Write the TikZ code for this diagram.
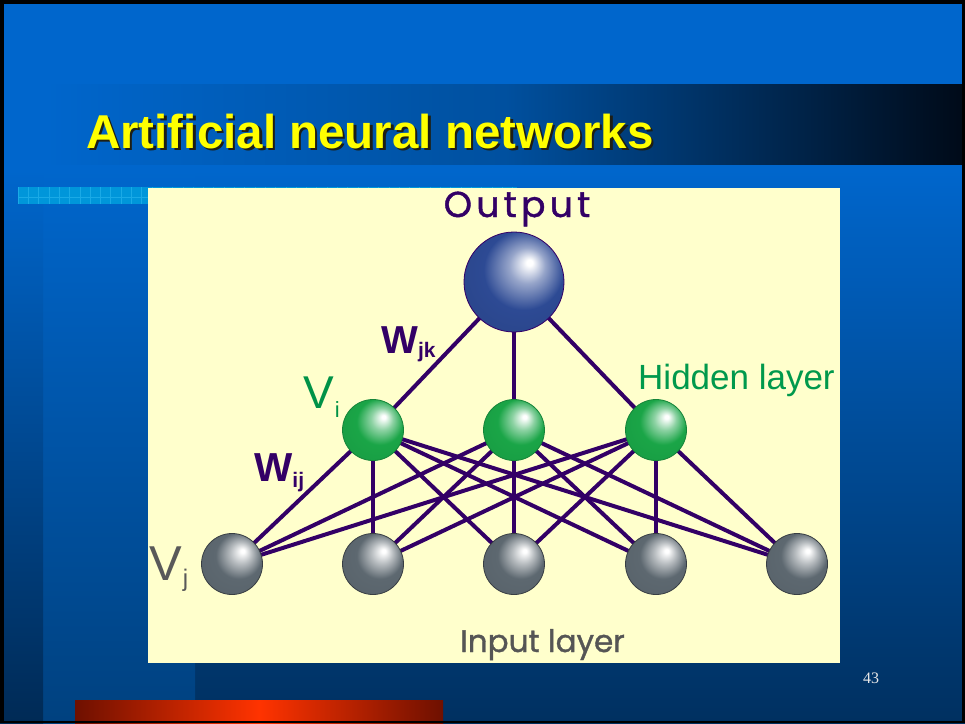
\documentclass[tikz,border=0pt]{standalone}
\usepackage{fontspec}
\setmainfont{Liberation Sans}
\newfontfamily\gothic[FakeBold=1.2]{Poppins}
\newfontfamily\gothicsp[LetterSpace=12,FakeBold=1.2]{Poppins}
\newfontfamily\timesf{Liberation Serif}
\definecolor{bgtop}{HTML}{0066CC}
\definecolor{bgbot}{HTML}{003060}
\definecolor{bgcol}{HTML}{00417F}
\definecolor{bgleft}{HTML}{002A55}
\definecolor{panel}{HTML}{FFFFCC}
\definecolor{wire}{HTML}{330066}
\definecolor{hidgreen}{HTML}{00994C}
\definecolor{vgreen}{HTML}{009247}
\definecolor{vgray}{HTML}{595959}
\definecolor{ingray}{HTML}{555555}
\definecolor{ballblue}{HTML}{2D4A94}
\definecolor{ballgreen}{HTML}{1AA547}
\definecolor{ballgray}{HTML}{5D6870}
\definecolor{stripe}{HTML}{0096DA}
\definecolor{stripeline}{HTML}{1AAAE6}
\definecolor{reddark}{HTML}{6E1000}
\definecolor{redlight}{HTML}{FF3300}
\definecolor{titleyellow}{HTML}{FFFF00}
\definecolor{shadow}{HTML}{1E1E14}
\definecolor{bandmid}{HTML}{00509F}
\definecolor{bandend}{HTML}{000A18}
\definecolor{pagenum}{HTML}{E8E8E8}
\pgfdeclareradialshading{sphblue}{\pgfpoint{8bp}{10bp}}{color(0bp)=(white); color(1.5bp)=(white); color(9bp)=(ballblue!50!white); color(20bp)=(ballblue); color(50bp)=(ballblue!85!black)}
\pgfdeclareradialshading{sphgreen}{\pgfpoint{9bp}{11bp}}{color(0bp)=(white); color(1.5bp)=(white); color(9bp)=(ballgreen!50!white); color(19bp)=(ballgreen); color(50bp)=(ballgreen!90!black)}
\pgfdeclareradialshading{sphgray}{\pgfpoint{9bp}{11bp}}{color(0bp)=(white); color(1.5bp)=(white); color(9bp)=(ballgray!45!white); color(19bp)=(ballgray); color(50bp)=(ballgray!90!black)}
\pgfdeclarelayer{bg}
\pgfdeclarelayer{wires}
\pgfsetlayers{bg,wires,main}
\tikzset{
  ballout/.style={circle, inner sep=0pt, minimum size=100, shading=sphblue, draw=wire, line width=0.8},
  ballhid/.style={circle, inner sep=0pt, minimum size=61, shading=sphgreen, draw=ballgreen!80!black, line width=0.8},
  ballin/.style={circle, inner sep=0pt, minimum size=61, shading=sphgray, draw=ballgray!60!black, line width=0.8},
  link/.style={wire, line width=4},
  lbl/.style={anchor=base west, inner sep=0pt},
}
\begin{document}
\begin{tikzpicture}[x=1pt, y=-1pt]
\useasboundingbox (0,0) rectangle (965,723);
\begin{pgfonlayer}{bg}
  \fill[bgtop] (0,0) rectangle (965,723);
  \shade[top color=bgtop, bottom color=bgbot] (0,170) rectangle (965,723);
  \shade[top color=bgtop, bottom color=bgcol] (43,170) rectangle (195,723);
  \shade[top color=bgtop, bottom color=bgleft] (0,170) rectangle (43,723);
  \shade[left color=bgtop, right color=bandend, middle color=bandmid] (45,84) rectangle (965,164);
  \fill[stripe] (18,187) rectangle (517,204);
  \foreach \i in {0,...,48} {\draw[stripeline, line width=0.6] (18+10.3*\i,187) -- (18+10.3*\i,204);}
  \draw[stripeline, line width=0.6] (18,197) -- (517,197);
  \fill[panel] (148,188) rectangle (840,663);
  \shade[left color=reddark, right color=reddark, middle color=redlight] (75,700) rectangle (443,723);
  \fill[black] (0,0) rectangle (4,723);
  \fill[black] (0,0) rectangle (965,4);
  \fill[black] (962,0) rectangle (965,723);
  \fill[black] (0,721) rectangle (965,723);
\end{pgfonlayer}

% title
\node[lbl, text=shadow, font=\bfseries\fontsize{47.5}{48}\selectfont] (titlesh) at (88.5,150.5) {Artificial neural networks};
\node[lbl, text=titleyellow, font=\bfseries\fontsize{47.5}{48}\selectfont] (title) at (86,148) {Artificial neural networks};

% nodes
\node[ballout] (o) at (514,282) {};
\node[ballhid] (h1) at (373,430) {};
\node[ballhid] (h2) at (514,430) {};
\node[ballhid] (h3) at (656,430) {};
\node[ballin] (i1) at (232,564) {};
\node[ballin] (i2) at (373,564) {};
\node[ballin] (i3) at (514,564) {};
\node[ballin] (i4) at (656,564) {};
\node[ballin] (i5) at (797,564) {};

\begin{pgfonlayer}{wires}
  \foreach \h in {h1,h2,h3} {\draw[link] (o.center) -- (\h.center);}
  \foreach \h in {h1,h2,h3} {\foreach \k in {i1,i2,i3,i4,i5} {\draw[link] (\h.center) -- (\k.center);}}
\end{pgfonlayer}

% labels
\node[anchor=base, inner sep=0pt, text=wire, font=\gothicsp\fontsize{36}{36}\selectfont] (outlbl) at (517,217) {Output};
\node[lbl, text=ingray, font=\gothic\fontsize{31}{31}\selectfont] (inlbl) at (460,652) {Input layer};
\node[lbl, text=hidgreen, font=\fontsize{35}{35}\selectfont] (hidlbl) at (638,389) {Hidden layer};
\node[lbl, text=vgreen, font=\fontsize{46}{46}\selectfont] (vi) at (303,408) {V\kern1pt\raisebox{-9pt}{\fontsize{22}{22}\selectfont i}};
\node[lbl, text=vgray, font=\fontsize{49}{49}\selectfont] (vj) at (149,580) {V\kern1pt\raisebox{-6pt}{\fontsize{24}{24}\selectfont j}};
\node[lbl, text=wire, font=\bfseries\fontsize{39}{39}\selectfont] (wjk) at (381,353) {W\raisebox{-4pt}{\fontsize{21}{21}\selectfont jk}};
\node[lbl, text=wire, font=\bfseries\fontsize{40.5}{40}\selectfont] (wij) at (254,481) {W\raisebox{-6pt}{\fontsize{21}{21}\selectfont ij}};
\node[text=pagenum, font=\timesf\fontsize{16}{16}\selectfont] (pg) at (871,678) {43};
\end{tikzpicture}
\end{document}
